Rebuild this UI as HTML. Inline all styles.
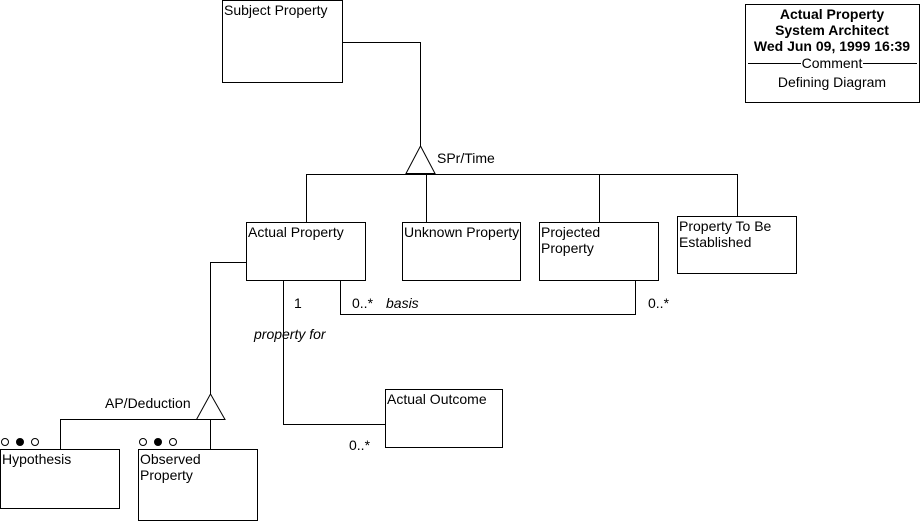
<!DOCTYPE html>
<html><head><meta charset="utf-8"><style>
html,body{margin:0;padding:0;background:#fff;}
svg{display:block;}
text{font-family:"Liberation Sans",sans-serif;font-size:14px;fill:#000;}
</style></head><body>
<svg width="921" height="522" xmlns="http://www.w3.org/2000/svg" shape-rendering="crispEdges" xml:space="preserve">
<g fill="none" stroke="#000" stroke-width="1">
<rect x="222.5" y="0.5" width="120" height="82"/>
<rect x="745.5" y="4.5" width="174" height="98"/>
<rect x="246.5" y="222.5" width="119" height="58"/>
<rect x="402.5" y="222.5" width="118" height="58"/>
<rect x="539.5" y="222.5" width="119" height="58"/>
<rect x="677.5" y="216.5" width="119" height="57"/>
<rect x="385.5" y="389.5" width="117" height="58"/>
<rect x="0.5" y="449.5" width="119" height="59"/>
<rect x="138.5" y="449.5" width="119" height="71"/>
<polyline points="342,42.5 420.5,42.5 420.5,147"/>
<polyline points="306.5,222 306.5,174.5 737.5,174.5 737.5,216"/>
<line x1="426.5" y1="174" x2="426.5" y2="222"/>
<line x1="599.5" y1="174" x2="599.5" y2="222"/>
<polyline points="340.5,281 340.5,314.5 635.5,314.5 635.5,281"/>
<polyline points="283.5,281 283.5,424.5 385,424.5"/>
<polyline points="246,262.5 210.5,262.5 210.5,394"/>
<polyline points="60.5,449 60.5,419.5 197,419.5"/>
<line x1="210.5" y1="419" x2="210.5" y2="449"/>
<line x1="748" y1="63.5" x2="801" y2="63.5"/>
<line x1="863" y1="63.5" x2="917" y2="63.5"/>
</g>
<g fill="#fff" stroke="#000" shape-rendering="auto">
<polygon points="420.5,146 406,173.5 435,173.5"/>
<polygon points="210.5,394 196.5,419.5 225,419.5"/>
<circle cx="5" cy="442" r="3.5"/><circle cx="20" cy="442" r="3.5" fill="#000"/><circle cx="35" cy="442" r="3.5"/>
<circle cx="143" cy="442" r="3.5"/><circle cx="158" cy="442" r="3.5" fill="#000"/><circle cx="173" cy="442" r="3.5"/>
</g>
<text x="224" y="15">Subject Property</text>
<text x="437" y="163">SPr/Time</text>
<text x="248" y="237">Actual Property</text>
<text x="404" y="237">Unknown Property</text>
<text x="541" y="237">Projected</text>
<text x="541" y="253">Property</text>
<text x="679" y="231">Property To Be</text>
<text x="679" y="247">Established</text>
<text x="294" y="308">1</text>
<text x="352" y="308">0..*</text>
<text x="386" y="308" font-style="italic">basis</text>
<text x="648" y="308">0..*</text>
<text x="254" y="339" font-style="italic">property for</text>
<text x="387" y="404">Actual Outcome</text>
<text x="349" y="450">0..*</text>
<text x="105" y="408">AP/Deduction</text>
<text x="2" y="464">Hypothesis</text>
<text x="140" y="464">Observed</text>
<text x="140" y="480">Property</text>
<text x="832" y="19" text-anchor="middle" font-weight="bold">Actual Property</text>
<text x="832" y="35" text-anchor="middle" font-weight="bold">System Architect</text>
<text x="832" y="51" text-anchor="middle" font-weight="bold">Wed Jun 09, 1999  16:39</text>
<text x="832" y="68" text-anchor="middle">Comment</text>
<text x="832" y="87" text-anchor="middle">Defining Diagram</text>
</svg>
</body></html>
